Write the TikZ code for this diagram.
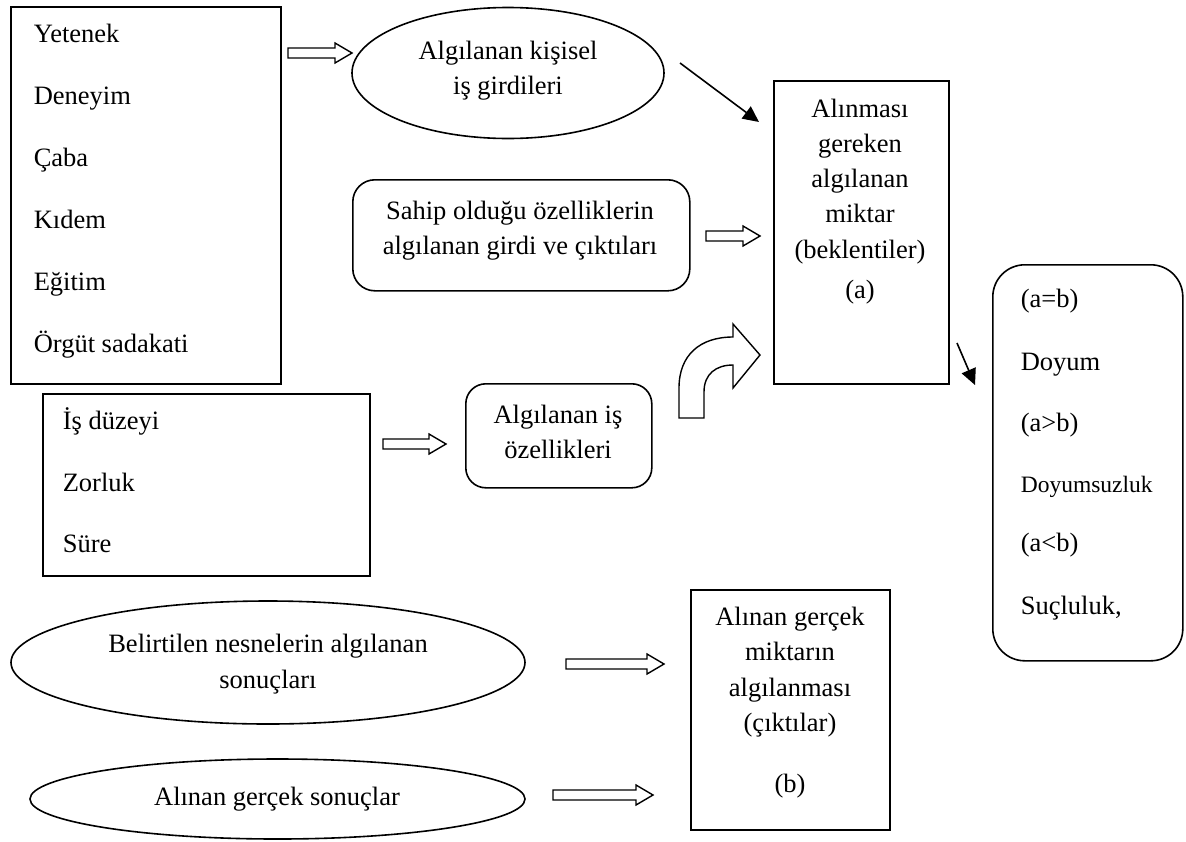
\documentclass[tikz,border=0pt]{standalone}
\usepackage{fontspec}
\setmainfont{Liberation Serif}
\usetikzlibrary{arrows.meta,shapes.geometric}
\newcommand{\blkarrow}[3]{% x1, x2, y
  \draw[line width=1.4pt, fill=white, line join=miter]
    (#1,#3-5) -- (#2-17,#3-5) -- (#2-17,#3-10) -- (#2,#3) -- (#2-17,#3+10)
    -- (#2-17,#3+5) -- (#1,#3+5) -- cycle;}
\begin{document}
\begin{tikzpicture}[x=1pt,y=-1pt,line width=1.6pt,
  ctxt/.style={inner sep=0pt, anchor=base, font=\fontsize{26.5}{30}\selectfont},
  ltxt/.style={ctxt, anchor=base west},
  sbox/.style={draw, rectangle, anchor=north west, inner sep=0pt},
  rbox/.style={sbox, rounded corners=#1},
  oval/.style={draw, ellipse, inner sep=0pt},
  tip/.style={-{Triangle[length=16pt,width=15pt]}}]
\useasboundingbox (0,0) rectangle (1186,841);
\fill[white] (0,0) rectangle (1186,841);

% shapes
\node[sbox, minimum width=270pt, minimum height=377pt] (b1) at (10,6) {};
\node[oval, minimum width=312pt, minimum height=131pt] (e1) at (508,73) {};
\node[sbox, minimum width=175pt, minimum height=303pt] (bA) at (773,80) {};
\node[rbox=22pt, minimum width=337pt, minimum height=111pt] (rS) at (352,179) {};
\node[rbox=20pt, minimum width=186pt, minimum height=104pt] (rI) at (465,383) {};
\node[sbox, minimum width=327pt, minimum height=182pt] (b2) at (42,393) {};
\node[rbox=32pt, minimum width=190pt, minimum height=396pt] (rR) at (992,264) {};
\node[oval, minimum width=514pt, minimum height=123pt] (e2) at (268,662.5) {};
\node[sbox, minimum width=199pt, minimum height=240pt] (bB) at (690,589) {};
\node[oval, minimum width=495pt, minimum height=80pt] (e3) at (277.5,799) {};

% texts box 1
\node[ltxt] (t11) at (33,42) {Yetenek};
\node[ltxt] (t12) at (33,104) {Deneyim};
\node[ltxt] (t13) at (33,166) {Çaba};
\node[ltxt] (t14) at (33,228) {Kıdem};
\node[ltxt] (t15) at (33,290) {Eğitim};
\node[ltxt] (t16) at (33,352) {Örgüt sadakati};

% ellipse 1
\node[ctxt] (te1a) at (508,59) {Algılanan kişisel};
\node[ctxt] (te1b) at (508,94) {iş girdileri};

% box A
\node[ctxt] (tA1) at (860,117) {Alınması};
\node[ctxt] (tA2) at (860,152) {gereken};
\node[ctxt] (tA3) at (860,187) {algılanan};
\node[ctxt] (tA4) at (860,222) {miktar};
\node[ctxt] (tA5) at (860,258) {(beklentiler)};
\node[ctxt] (tA6) at (860,298) {(a)};

% Sahip box
\node[ctxt] (tS1) at (520,219) {Sahip olduğu özelliklerin};
\node[ctxt] (tS2) at (520,254) {algılanan girdi ve çıktıları};

% Algılanan iş box
\node[ctxt] (tI1) at (558,423) {Algılanan iş};
\node[ctxt] (tI2) at (558,458) {özellikleri};

% box 2
\node[ltxt] (t21) at (62,429) {İş düzeyi};
\node[ltxt] (t22) at (62,491) {Zorluk};
\node[ltxt] (t23) at (62,552) {Süre};

% right box
\node[ltxt] (tR1) at (1020,307) {(a=b)};
\node[ltxt] (tR2) at (1020,370) {Doyum};
\node[ltxt] (tR3) at (1020,431) {(a>b)};
\node[ltxt, font=\fontsize{23.5}{28}\selectfont] (tR4) at (1020,492) {Doyumsuzluk};
\node[ltxt] (tR5) at (1020,551) {(a<b)};
\node[ltxt] (tR6) at (1020,614) {Suçluluk,};

% ellipse 2, 3
\node[ctxt] (te2a) at (268,652) {Belirtilen nesnelerin algılanan};
\node[ctxt] (te2b) at (268,688) {sonuçları};
\node[ctxt] (te3) at (277,805) {Alınan gerçek sonuçlar};

% box B
\node[ctxt] (tB1) at (790,625) {Alınan gerçek};
\node[ctxt] (tB2) at (790,660) {miktarın};
\node[ctxt] (tB3) at (790,696) {algılanması};
\node[ctxt] (tB4) at (790,731) {(çıktılar)};
\node[ctxt] (tB5) at (790,792) {(b)};

% block arrows
\blkarrow{288}{352}{53}
\blkarrow{706}{760}{236}
\blkarrow{383}{446}{444}
\blkarrow{566}{664}{664}
\blkarrow{553}{653}{795}

% curved block arrow
\draw[line width=1.4pt, fill=white, line join=miter]
  (679,418) -- (679,388) .. controls (679,355) and (700,337) .. (733,337)
  -- (733,324) -- (760,355) -- (733,388) -- (733,365)
  .. controls (716,365) and (704,374) .. (704,392) -- (704,418) -- cycle;

% thin arrows
\coordinate (p1) at (680,63);
\coordinate (q1) at (759,122);
\draw[tip] (p1) -- (q1);
\coordinate (p2) at (957,343);
\coordinate (q2) at (975,385);
\draw[tip] (p2) -- (q2);
\end{tikzpicture}
\end{document}
